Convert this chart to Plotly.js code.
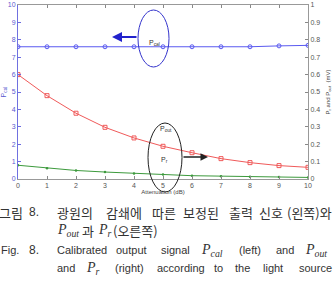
<!DOCTYPE html>
<html><head><meta charset="utf-8">
<script src="https://cdn.plot.ly/plotly-3.0.1.min.js"></script>
<style>html,body{margin:0;padding:0;background:#fff;}#chart{width:335px;height:281px;}</style>
</head><body><div id="chart"></div>
<script>
// Data
var attenuation = [0,1,2,3,4,5,6,7,8,9,10];
var pCal = [7.6,7.6,7.6,7.6,7.6,7.6,7.6,7.6,7.6,7.65,7.68];
var pOut = [0.600,0.479,0.378,0.297,0.236,0.188,0.151,0.117,0.094,0.077,0.067];
var pR   = [0.079,0.062,0.049,0.040,0.031,0.026,0.019,0.016,0.013,0.011,0.009];
var leftTicks = [0,1,2,3,4,5,6,7,8,9,10];
var rightTicks = [0,0.1,0.2,0.3,0.4,0.5,0.6,0.7,0.8,0.9,1];

// pixel -> paper helpers (plot area: x 18..308, y 5..179)
function px(x){return (x-18)/290;}
function py(y){return (179-y)/174;}

var traces = [
  {x:attenuation, y:pCal, type:'scatter', mode:'lines+markers', yaxis:'y',
   line:{color:'#5a5af0', width:1}, marker:{symbol:'circle-open', size:4, color:'#5a5af0', line:{width:1}}},
  {x:attenuation, y:pOut, type:'scatter', mode:'lines+markers', yaxis:'y2',
   line:{color:'#f05a5a', width:1}, marker:{symbol:'square-open', size:4, color:'#f05a5a', line:{width:1}}},
  {x:attenuation, y:pR, type:'scatter', mode:'lines+markers', yaxis:'y2',
   line:{color:'#3c9a3c', width:1}, marker:{symbol:'circle', size:2.5, color:'#3c9a3c'}}
];

var KR = 'Noto Sans CJK KR, sans-serif';
var EN = 'Liberation Sans, Arial, sans-serif';
var SERIF = 'Liberation Serif, Times New Roman, serif';
var capColor = '#333';
var lineY = [212, 230, 250, 268];
var capWords = [
  ['그림', -3, 0, KR, 13], ['8.', 27, 0, EN, 12],
  ['광원의', 55, 0, KR, 13], ['감쇄에', 104, 0, KR, 13], ['따른', 150, 0, KR, 13],
  ['보정된', 181, 0, KR, 13], ['출력', 227, 0, KR, 13], ['신호', 257, 0, KR, 13],
  ['(왼쪽)와', 285, 0, KR, 13],
  ['<i>P</i><sub><i>out</i></sub>', 55, 1, SERIF, 14], ['과', 80, 1, KR, 13],
  ['<i>P</i><sub><i>r</i></sub>', 96, 1, SERIF, 14], ['(오른쪽)', 111, 1, KR, 13],
  ['Fig.', -1, 2, EN, 11], ['8.', 27, 2, EN, 12],
  ['Calibrated', 55, 2, EN, 11], ['output', 114, 2, EN, 11], ['signal', 159, 2, EN, 11],
  ['<i>P</i><sub><i>cal</i></sub>', 199, 2, SERIF, 14], ['(left)', 237, 2, EN, 11],
  ['and', 274, 2, EN, 11], ['<i>P</i><sub><i>out</i></sub>', 303, 2, SERIF, 14],
  ['and', 55, 3, EN, 11], ['<i>P</i><sub><i>r</i></sub>', 84, 3, SERIF, 14],
  ['(right)', 113, 3, EN, 11], ['according', 155, 3, EN, 11], ['to', 212, 3, EN, 11],
  ['the', 233, 3, EN, 11], ['light', 261, 3, EN, 11], ['source', 297, 3, EN, 11]
];

var annotations = capWords.map(function(w){
  return {text:w[0], xref:'paper', yref:'paper', x:px(w[1]), y:py(lineY[w[2]]),
          xanchor:'left', yanchor:'middle', showarrow:false,
          font:{family:w[3], size:w[4], color:capColor}};
});

// in-plot labels and arrows
annotations.push(
  {text:'P<sub>cal</sub>', xref:'paper', yref:'paper', x:px(154), y:py(37), showarrow:false,
   font:{family:'Liberation Sans, Arial', size:7, color:'#333'}},
  {text:'P<sub>out</sub>', xref:'paper', yref:'paper', x:px(166), y:py(135), showarrow:false,
   font:{family:'Liberation Sans, Arial', size:7, color:'#333'}},
  {text:'P<sub>r</sub>', xref:'paper', yref:'paper', x:px(164), y:py(166), showarrow:false,
   font:{family:'Liberation Sans, Arial', size:7, color:'#333'}},
  {text:'', xref:'paper', yref:'paper', x:px(112), y:py(37), ax:26, ay:0, showarrow:true,
   arrowhead:2, arrowsize:1, arrowwidth:2, arrowcolor:'#2222cc'},
  {text:'', xref:'paper', yref:'paper', x:px(208), y:py(157), ax:-26, ay:0, showarrow:true,
   arrowhead:2, arrowsize:1, arrowwidth:1.5, arrowcolor:'#222'}
);

var shapes = [
  {type:'circle', xref:'paper', yref:'paper', x0:px(138), x1:px(169), y0:py(67), y1:py(10),
   line:{color:'#3333cc', width:1}},
  {type:'circle', xref:'paper', yref:'paper', x0:px(148), x1:px(182), y0:py(192), y1:py(123),
   line:{color:'#222', width:1}}
];

var tickFont = {family:'Liberation Sans, Arial, sans-serif', size:7, color:'#555'};
var layout = {
  width:335, height:281,
  margin:{l:18, r:27, t:5, b:102, pad:0},
  paper_bgcolor:'#fff', plot_bgcolor:'#fff',
  showlegend:false,
  xaxis:{range:[0,10], tickvals:attenuation, ticks:'inside', ticklen:3, tickcolor:'#888',
    showline:true, linecolor:'#999', linewidth:1, mirror:'ticks', showgrid:false, zeroline:false,
    tickfont:tickFont, ticklabelstandoff:0,
    title:{text:'Attenuation (dB)', font:{family:'Liberation Sans, Arial', size:6, color:'#444'}, standoff:1}},
  yaxis:{range:[0,10], tickvals:leftTicks, ticks:'inside', ticklen:3, tickcolor:'#6b6be0',
    showline:true, linecolor:'#7070e0', linewidth:1, showgrid:false, zeroline:false,
    tickfont:{family:'Liberation Sans, Arial, sans-serif', size:7, color:'#5a5ad0'},
    title:{text:'P<sub>cal</sub>', font:{family:'Liberation Sans, Arial', size:7, color:'#5a5ad0'}, standoff:2}},
  yaxis2:{range:[0,1], tickvals:rightTicks, overlaying:'y', side:'right', ticks:'inside', ticklen:3,
    tickcolor:'#888', showline:true, linecolor:'#999', linewidth:1, showgrid:false, zeroline:false,
    tickfont:tickFont,
    title:{text:'P<sub>r</sub> and P<sub>out</sub>  (mV)', font:{family:'Liberation Sans, Arial', size:6, color:'#444'}, standoff:6}},
  annotations:annotations,
  shapes:shapes
};

Plotly.newPlot('chart', traces, layout, {displayModeBar:false, staticPlot:true});
</script>
</body></html>
